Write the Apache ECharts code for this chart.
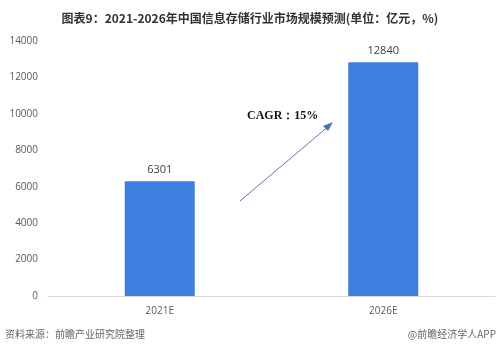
<!DOCTYPE html>
<html><head><meta charset="utf-8">
<script src="https://cdn.jsdelivr.net/npm/echarts@6/dist/echarts.min.js"></script>
<style>html,body{margin:0;padding:0;background:#fff}#c{width:500px;height:351px}</style>
</head><body><div id="c"></div>
<script>
const categories = ['2021E', '2026E'];
const values = [6301, 12840];
const yTicks = [0, 2000, 4000, 6000, 8000, 10000, 12000, 14000];
const titleText = '图表9：2021-2026年中国信息存储行业市场规模预测(单位：亿元，%)';
const cagrText = 'CAGR：15%';
const sourceText = '资料来源：前瞻产业研究院整理';
const brandText = '@前瞻经济学人APP';

const chart = echarts.init(document.getElementById('c'), null, {renderer: 'canvas'});
const cjk = '"Noto Sans CJK SC", "Noto Sans", sans-serif';
chart.setOption({
  animation: false,
  backgroundColor: '#fff',
  title: {
    text: titleText, left: 'center', top: 7,
    textStyle: {fontSize: 12, fontWeight: 'bold', color: '#333', fontFamily: cjk}
  },
  grid: {left: 48, right: 5, top: 41, bottom: 55},
  xAxis: {
    type: 'category', data: categories,
    axisLine: {lineStyle: {color: '#d9d9d9'}},
    axisTick: {show: false},
    axisLabel: {color: '#595959', fontSize: 10, margin: 10, fontFamily: '"Open Sans", sans-serif'}
  },
  yAxis: {
    type: 'value', min: yTicks[0], max: yTicks[yTicks.length - 1], interval: 2000,
    axisLine: {show: false}, axisTick: {show: false},
    splitLine: {show: false},
    axisLabel: {color: '#595959', fontSize: 10, margin: 10, fontFamily: '"Open Sans", sans-serif',
      formatter: v => String(v)}
  },
  series: [{
    type: 'bar', data: values, barWidth: 70,
    itemStyle: {color: '#3d7fdf'},
    label: {show: true, position: 'top', color: '#404040', fontSize: 11, distance: 6, fontFamily: '"Open Sans", sans-serif'}
  }],
  graphic: [
    {type: 'line', shape: {x1: 240, y1: 201, x2: 330, y2: 125},
     style: {stroke: '#5a79b5', lineWidth: 1}},
    {type: 'polygon', shape: {points: [[333, 122], [323, 126], [328, 131]]},
     style: {fill: '#4a6fb5'}},
    {type: 'text', left: 247, top: 110,
     style: {text: cagrText, font: 'bold 12px "Liberation Serif", serif', fill: '#111'}},
    {type: 'text', left: 5, top: 329,
     style: {text: sourceText, font: '10px ' + cjk, fill: '#666'}},
    {type: 'text', right: 4, top: 329,
     style: {text: brandText, font: '10px ' + cjk, fill: '#666'}}
  ]
});
</script></body></html>
